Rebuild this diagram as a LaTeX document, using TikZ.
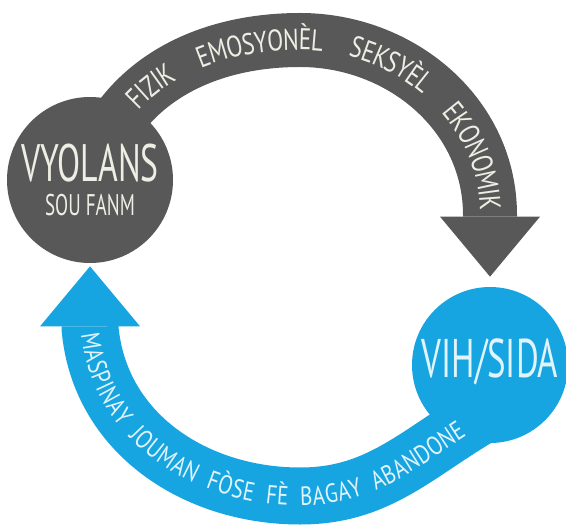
\documentclass[tikz,border=0pt]{standalone}
\usepackage{fontspec}
\usepackage{xcolor}
\usetikzlibrary{arrows.meta,decorations.text,calc,backgrounds}
\newfontfamily\labelfont[FakeStretch=0.64]{PT Sans}
\newfontfamily\arcfont[FakeStretch=0.78]{PT Sans}
\newfontfamily\lowfont[FakeStretch=0.8]{PT Sans}
\definecolor{violgrey}{RGB}{88,88,88}
\definecolor{vihblue}{RGB}{22,165,225}
\definecolor{greytext}{RGB}{238,238,228}
\definecolor{bluetext}{RGB}{225,244,252}

\begin{document}
\begin{tikzpicture}[line join=round]
		\tikzstyle{bubble}=[circle,inner sep=0pt,align=center,font=\labelfont]
		\tikzstyle{band}=[-{Triangle[width=2cm 0 0,length=1.2cm 0 0,line width=0pt 0 0]}]
		\tikzstyle{arctext}=[decorate,decoration={text along path,raise=-0.2cm}]
		\useasboundingbox (0,0) rectangle (11.32,10.62);
		\node[bubble,fill=violgrey,text=greytext,minimum size=3.32cm]  (A) at (1.8,7.02)
			{\fontsize{30}{30}\selectfont VYOLANS\\[0.22cm]\fontsize{17}{17}\selectfont SOU FANM};
		\node[bubble,fill=vihblue,text=bluetext,minimum size=3.12cm,text depth=0.28cm] (B) at (9.8,3.32)
			{\fontsize{31}{31}\selectfont VIH/SIDA};
		\coordinate (G1) at (6.0,9.82);
		\coordinate (G2) at (9.8,6.32);
		\coordinate (B1) at (9.7,2.35);
		\coordinate (B2) at (6.0,0.7);
		\coordinate (B3) at (1.8,4.06);
		\begin{pgfonlayer}{background}
		\draw[band,draw=violgrey,line width=1.08cm]
			(A.center) to[out=75,in=180] (G1) to[out=0,in=90] (G2) -- ($(B.north)+(0,0.2)$);
		\draw[band,draw=vihblue,line width=1.14cm]
			(B.center) -- (B1) to[out=210,in=0] (B2) to[out=180,in=-85] (B3) -- ($(A.south)+(0,-0.06)$);
		\end{pgfonlayer}
		\path[arctext,decoration={text color=greytext,
			text align={left indent=1.75cm,right indent=0.1cm,fit to path stretching spaces},
			text={|\arcfont\fontsize{17}{17}\selectfont|FIZIK EMOSYONÈL SEKSYÈL EKONOMIK}}]
			(A.center) to[out=75,in=180] (G1) to[out=0,in=90] (G2);
		\path[arctext,decoration={text color=bluetext,raise=-0.19cm,
			text align={left indent=0.1cm,right indent=0.55cm,fit to path stretching spaces},
			text={|\lowfont\fontsize{15}{15}\selectfont|MASPINAY JOUMAN FÒSE FÈ BAGAY ABANDONE}}]
			(B3) to[out=-85,in=180] (B2) to[out=0,in=210] (B1);
	\end{tikzpicture}
\end{document}
